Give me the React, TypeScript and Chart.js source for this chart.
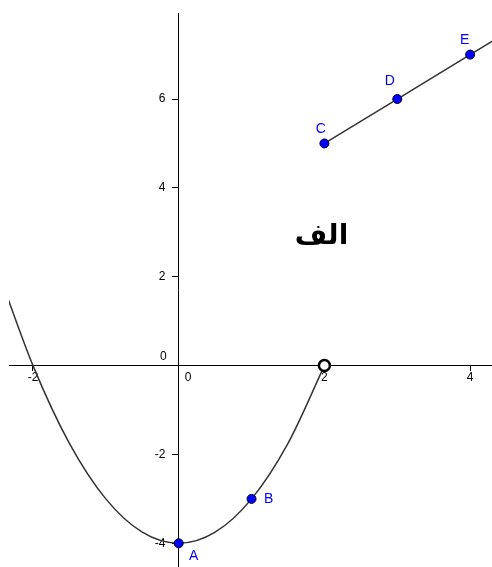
import React, { useEffect, useRef } from 'react';
import { Chart, registerables } from 'chart.js';

Chart.register(...registerables);

// ---- data ----
const parabolaX = [-2.4, -2, -1.5, -1, -0.5, 0, 0.5, 1, 1.5, 2];
const parabolaY = [1.76, 0, -1.75, -3, -3.75, -4, -3.75, -3, -1.75, 0];
const segmentX = [2, 3, 4, 4.4];
const segmentY = [5, 6, 7, 7.4];
const pointNames = ['A', 'B', 'C', 'D', 'E'];
const pointX = [0, 1, 2, 3, 4];
const pointY = [-4, -3, 5, 6, 7];
const openX = [2];
const openY = [0];
const xTicks = [-2, 0, 2, 4];
const yTicks = [-4, -2, 0, 2, 4, 6, 8];
const xRange = [-2.329, 4.3];
const yRange = [-4.533, 7.936];
const labelText = 'الف';
const labelPos = [1.96, 2.9];

// ---- styles ----
const pointLabelOffsets = [
  [15, 12.5],
  [17, 0],
  [-3.5, -14],
  [-7.5, -18],
  [-5.5, -14],
];
const tickFont = { family: '"Liberation Sans", Arial, sans-serif', size: 12 };
// gap between y-axis labels and the axis (labels are right-aligned on the axis)
const yLabelGap = '    ';

const annotationPlugin = {
  id: 'annotations',
  afterDatasetsDraw(chart: any) {
    const ctx = chart.ctx;
    const xs = chart.scales.x;
    const ys = chart.scales.y;
    ctx.save();
    // point labels
    ctx.font = '14px "Liberation Sans", Arial, sans-serif';
    ctx.fillStyle = '#0000ff';
    ctx.textAlign = 'center';
    ctx.textBaseline = 'middle';
    pointNames.forEach((n, i) => {
      const px = xs.getPixelForValue(pointX[i]) + pointLabelOffsets[i][0];
      const py = ys.getPixelForValue(pointY[i]) + pointLabelOffsets[i][1];
      ctx.fillText(n, px, py);
    });
    // zero labels of both axes
    const x0 = xs.getPixelForValue(0);
    const y0 = ys.getPixelForValue(0);
    ctx.font = '12px "Liberation Sans", Arial, sans-serif';
    ctx.fillStyle = '#000';
    ctx.textAlign = 'right';
    ctx.textBaseline = 'middle';
    ctx.fillText('0', x0 - 12, y0 - 9);
    ctx.textAlign = 'left';
    ctx.fillText('0', x0 + 6, y0 + 12.5);
    // big Arabic label
    ctx.font = 'bold 28px "DejaVu Sans", sans-serif';
    ctx.textAlign = 'center';
    ctx.textBaseline = 'middle';
    ctx.fillStyle = '#000';
    ctx.fillText(labelText, xs.getPixelForValue(labelPos[0]), ys.getPixelForValue(labelPos[1]));
    ctx.restore();
  },
  afterDraw(chart: any) {
    const ctx = chart.ctx;
    ctx.clearRect(0, 0, chart.width, chart.chartArea.top);
  },
};

export default function App() {
  const ref = useRef<HTMLCanvasElement | null>(null);
  useEffect(() => {
    document.body.style.margin = '0';
    const canvas = ref.current;
    if (!canvas) return;
    const chart = new Chart(canvas, {
      type: 'scatter',
      data: {
        datasets: [
          {
            label: 'points',
            data: pointX.map((x, i) => ({ x, y: pointY[i] })),
            pointRadius: 4.5,
            pointBorderWidth: 1,
            pointBackgroundColor: '#0000ff',
            pointBorderColor: '#000022',
            showLine: false,
          },
          {
            label: 'open',
            data: openX.map((x, i) => ({ x, y: openY[i] })),
            pointRadius: 5.5,
            pointBorderWidth: 2.5,
            pointBackgroundColor: '#ffffff',
            pointBorderColor: '#000000',
            showLine: false,
          },
          {
            label: 'segment',
            data: segmentX.map((x, i) => ({ x, y: segmentY[i] })),
            showLine: true,
            borderColor: '#333333',
            borderWidth: 1.5,
            pointRadius: 0,
          },
          {
            label: 'parabola',
            data: parabolaX.map((x, i) => ({ x, y: parabolaY[i] })),
            showLine: true,
            borderColor: '#333333',
            borderWidth: 1.5,
            pointRadius: 0,
            cubicInterpolationMode: 'monotone',
          },
        ],
      },
      options: {
        animation: false,
        responsive: false,
        devicePixelRatio: 1,
        layout: { padding: { left: 9, top: 13, right: 0, bottom: 0 }, autoPadding: false },
        plugins: { legend: { display: false }, tooltip: { enabled: false } },
        scales: {
          x: {
            type: 'linear',
            position: { y: 0 },
            min: xRange[0],
            max: xRange[1],
            afterBuildTicks: (s: any) => { s.ticks = xTicks.map((v) => ({ value: v })); },
            afterFit: (s: any) => { s.paddingLeft = 0; s.paddingRight = 0; s.paddingTop = 0; s.paddingBottom = 0; },
            grid: { drawOnChartArea: false, drawTicks: true, tickLength: 5, color: '#000', tickWidth: 1 },
            border: { display: true, color: '#000', width: 1 },
            ticks: {
              autoSkip: false,
              maxRotation: 0,
              padding: 0,
              color: '#000',
              font: tickFont,
              callback: (v: any) => (v === 0 ? '' : String(v)),
            },
          },
          y: {
            type: 'linear',
            position: { x: 0 },
            min: yRange[0],
            max: yRange[1],
            afterBuildTicks: (s: any) => { s.ticks = yTicks.map((v) => ({ value: v })); },
            afterFit: (s: any) => { s.paddingLeft = 0; s.paddingRight = 0; s.paddingTop = 0; s.paddingBottom = 0; },
            grid: { drawOnChartArea: false, drawTicks: true, tickLength: 6, color: '#000', tickWidth: 1 },
            border: { display: true, color: '#000', width: 1 },
            ticks: {
              autoSkip: false,
              padding: 7,
              color: '#000',
              font: tickFont,
              callback: (v: any) => (v === 0 ? '' : String(v) + yLabelGap),
            },
          },
        },
      },
      plugins: [annotationPlugin],
    });
    return () => chart.destroy();
  }, []);
  return (
    <div style={{ width: 492, height: 567, background: '#fff' }}>
      <canvas ref={ref} width={492} height={567} style={{ display: 'block' }} />
    </div>
  );
}
